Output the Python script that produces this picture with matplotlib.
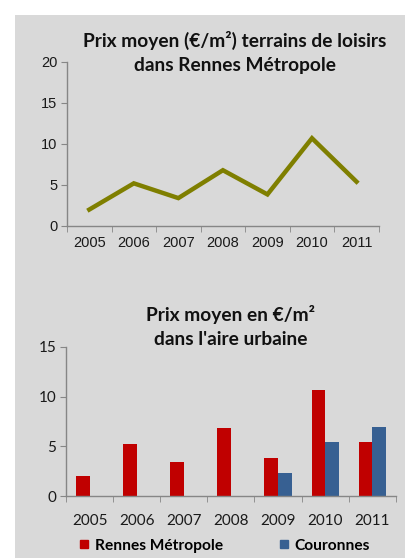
import numpy as np
import matplotlib.pyplot as plt
from matplotlib.patches import Rectangle
from matplotlib.lines import Line2D

years = ['2005', '2006', '2007', '2008', '2009', '2010', '2011']
rennes = [2.0, 5.2, 3.4, 6.8, 3.85, 10.7, 5.4]
couronnes = [np.nan, np.nan, np.nan, np.nan, 2.3, 5.4, 6.9]

PANEL = '#d9d9d9'
AXIS = '#868686'
OLIVE = '#7f7f00'
RED = '#c00000'
BLUE = '#376092'


def style_axes(ax, font, size, xpad):
    """Gray axis lines, ticks at the category boundaries."""
    for side in ['top', 'right']:
        ax.spines[side].set_visible(False)
    for side in ['left', 'bottom']:
        ax.spines[side].set_color(AXIS)
        ax.spines[side].set_linewidth(1.0)
    n = len(years)
    ax.set_xlim(-0.5, n - 0.5)
    ax.set_xticks(np.arange(n))
    ax.set_xticklabels(years, family=font, fontsize=size, color='#1a1a1a')
    ax.set_xticks(np.arange(n + 1) - 0.5, minor=True)
    ax.tick_params(axis='x', which='major', length=0, pad=xpad)
    ax.tick_params(axis='x', which='minor', length=4, color=AXIS, direction='out')
    ax.tick_params(axis='y', length=4, color=AXIS, direction='out', pad=3)
    for lab in ax.get_yticklabels():
        lab.set_family(font)
        lab.set_fontsize(size)
        lab.set_color('#1a1a1a')
    ax.set_facecolor('none')


def line_panel(fig):
    ax = fig.add_axes([0.165, 0.595, 0.768, 0.294])
    x = np.arange(len(years))
    ax.plot(x, rennes, color=OLIVE, linewidth=3.2, solid_joinstyle='miter')
    ax.set_ylim(0, 20)
    ax.set_yticks([0, 5, 10, 15, 20])
    style_axes(ax, 'Liberation Sans', 10.5, 7)
    fig.text(0.578, 0.944, 'Prix moyen (€/m²) terrains de loisirs\ndans Rennes Métropole',
             ha='center', va='top', family='Lato', fontweight='bold',
             fontsize=13.8, linespacing=1.5, color='#111111')


def bar_panel(fig):
    ax = fig.add_axes([0.1626, 0.1106, 0.8124, 0.2681])
    x = np.arange(len(years))
    w = 0.29
    ax.bar(x - w / 2, rennes, width=w, color=RED)
    ax.bar(x + w / 2, couronnes, width=w, color=BLUE)
    ax.set_ylim(0, 15)
    ax.set_yticks([0, 5, 10, 15])
    style_axes(ax, 'Lato', 11, 13)
    fig.text(0.568, 0.454, "Prix moyen en €/m²\ndans l'aire urbaine",
             ha='center', va='top', family='Lato', fontweight='bold',
             fontsize=13.8, linespacing=1.5, color='#111111')
    handles = [Line2D([], [], marker='s', linestyle='none', markersize=6,
                      color=RED),
               Line2D([], [], marker='s', linestyle='none', markersize=6,
                      color=BLUE)]
    fig.legend(handles, ['Rennes Métropole', 'Couronnes'], ncol=2,
               loc='center', bbox_to_anchor=(0.553, 0.022), frameon=False,
               handlelength=0.6, handletextpad=0.4, columnspacing=3.6,
               prop={'family': 'Lato', 'weight': 'bold', 'size': 11.2})


if __name__ == '__main__':
    fig = plt.figure(figsize=(4.06, 5.58), dpi=100, facecolor='white')
    fig.patches.append(Rectangle((15 / 406, 0), 1, 1 - 15 / 558,
                                 transform=fig.transFigure, facecolor=PANEL,
                                 edgecolor='none', zorder=-10))
    line_panel(fig)
    bar_panel(fig)
    fig.savefig('out.png', dpi=100, facecolor='white')
